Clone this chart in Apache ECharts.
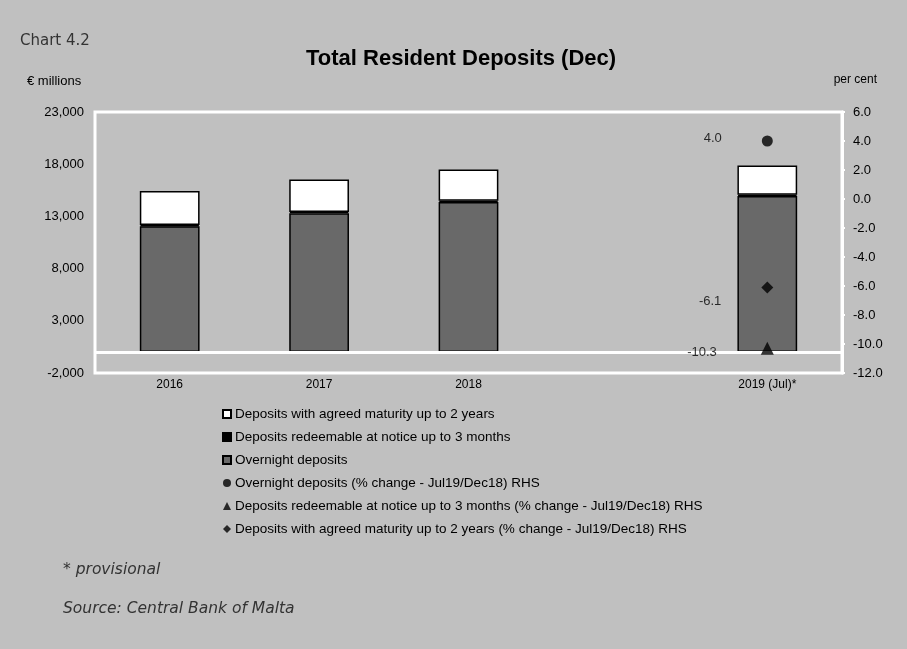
<!DOCTYPE html>
<html>
<head>
<meta charset="utf-8">
<script src="https://cdn.jsdelivr.net/npm/echarts@6/dist/echarts.min.js"></script>
<style>
html,body{margin:0;padding:0;background:#c0c0c0;}
#chart{width:907px;height:649px;}
</style>
</head>
<body>
<div id="chart"></div>
<script>
// ---- data ----
var categories = ['2016', '2017', '2018', '', '2019 (Jul)*'];
var overnight = [12050, 13300, 14370, '-', 14950];
var notice = [130, 130, 130, '-', 117];
var agreed = [3250, 3110, 3000, '-', 2810];
var pctOvernight = 4.0;
var pctNotice = -10.3;
var pctAgreed = -6.1;
var leftTicks = { min: -2000, max: 23000, interval: 5000 };
var rightTicks = { min: -12, max: 6, interval: 2 };

var names = {
  agreed: 'Deposits with agreed maturity up to 2 years',
  notice: 'Deposits redeemable at notice up to 3 months',
  overnight: 'Overnight deposits',
  pOvernight: 'Overnight deposits (% change - Jul19/Dec18) RHS',
  pNotice: 'Deposits redeemable at notice up to 3 months (% change - Jul19/Dec18) RHS',
  pAgreed: 'Deposits with agreed maturity up to 2 years (% change - Jul19/Dec18) RHS'
};
var lastCat = categories[categories.length - 1];
var FONT = '"Liberation Sans", Arial, sans-serif';

var chart = echarts.init(document.getElementById('chart'));
var barBorder = { borderColor: '#000', borderWidth: 1.5 };
function scatterLabel(off) {
  return {
    show: true, position: 'left', distance: 40, offset: off,
    color: '#000', fontSize: 13, fontFamily: FONT,
    formatter: function (p) { return p.value[1].toFixed(1); }
  };
}
chart.setOption({
  backgroundColor: '#c0c0c0',
  animation: false,
  textStyle: { fontFamily: FONT },
  grid: { left: 95, right: 65, top: 112, bottom: 276, show: true, borderColor: '#fff', borderWidth: 3, backgroundColor: 'transparent' },
  graphic: [
    { type: 'text', left: 20, top: 34, style: { text: 'Chart 4.2', font: '15px "DejaVu Sans", sans-serif', fill: '#333' } },
    { type: 'text', left: 306, top: 48, style: { text: 'Total Resident Deposits (Dec)', font: 'bold 22px "Liberation Sans", Arial, sans-serif', fill: '#000' } },
    { type: 'text', left: 27, top: 75, style: { text: '€ millions', font: '13px "Liberation Sans", Arial, sans-serif', fill: '#000' } },
    { type: 'text', right: 30, top: 74, style: { text: 'per cent', font: '12px "Liberation Sans", Arial, sans-serif', fill: '#000' } },
    { type: 'text', left: 63, top: 562, style: { text: '* provisional', font: 'italic 15.5px "DejaVu Sans", sans-serif', fill: '#333' } },
    { type: 'text', left: 63, top: 601, style: { text: 'Source: Central Bank of Malta', font: 'italic 15.5px "DejaVu Sans", sans-serif', fill: '#333' } }
  ],
  legend: {
    orient: 'vertical', left: 217, top: 402,
    itemWidth: 8, itemHeight: 8, itemGap: 9,
    textStyle: { fontSize: 13.5, lineHeight: 14, color: '#000', fontFamily: FONT, padding: [0, 0, 0, -1] },
    data: [
      { name: names.agreed, icon: 'rect' },
      { name: names.notice, icon: 'rect' },
      { name: names.overnight, icon: 'rect' },
      { name: names.pOvernight, icon: 'circle' },
      { name: names.pNotice, icon: 'triangle' },
      { name: names.pAgreed, icon: 'diamond' }
    ]
  },
  xAxis: {
    type: 'category', data: categories,
    axisLine: { show: false, onZero: false },
    axisTick: { show: false },
    axisLabel: { color: '#000', fontSize: 12, margin: 6, interval: 0 }
  },
  yAxis: [
    {
      type: 'value', min: leftTicks.min, max: leftTicks.max, interval: leftTicks.interval,
      splitLine: { show: false }, axisLine: { show: false }, axisTick: { show: false },
      axisLabel: { color: '#000', fontSize: 13, margin: 11, formatter: function (v) { return v.toLocaleString('en-US'); } }
    },
    {
      type: 'value', min: rightTicks.min, max: rightTicks.max, interval: rightTicks.interval,
      position: 'right',
      splitLine: { show: false },
      axisLine: { show: true, lineStyle: { color: '#fff', width: 3 } },
      axisTick: { show: true, length: 3, lineStyle: { color: '#fff', width: 2 } },
      axisLabel: { color: '#000', fontSize: 13, margin: 11, formatter: function (v) { return v.toFixed(1); } }
    }
  ],
  series: [
    {
      name: names.overnight, type: 'bar', stack: 'd', data: overnight, barWidth: '40%',
      itemStyle: Object.assign({ color: '#696969' }, barBorder),
      markLine: {
        silent: true, symbol: 'none', label: { show: false },
        lineStyle: { color: '#fff', width: 3, type: 'solid' },
        data: [{ yAxis: 0 }]
      },
      z: 2
    },
    { name: names.notice, type: 'bar', stack: 'd', data: notice, itemStyle: Object.assign({ color: '#000' }, barBorder), z: 2 },
    { name: names.agreed, type: 'bar', stack: 'd', data: agreed, itemStyle: Object.assign({ color: '#fff' }, barBorder), z: 2 },
    {
      name: names.pOvernight, type: 'scatter', yAxisIndex: 1, symbol: 'circle', symbolSize: 11,
      itemStyle: { color: '#000' }, data: [[lastCat, pctOvernight]], label: scatterLabel([0, -3]), z: 5
    },
    {
      name: names.pNotice, type: 'scatter', yAxisIndex: 1, symbol: 'triangle', symbolSize: 13,
      itemStyle: { color: '#000' }, data: [[lastCat, pctNotice]], label: scatterLabel([-4, 4]), z: 5
    },
    {
      name: names.pAgreed, type: 'scatter', yAxisIndex: 1, symbol: 'diamond', symbolSize: 12,
      itemStyle: { color: '#000' }, data: [[lastCat, pctAgreed]], label: scatterLabel([0, 14]), z: 5
    }
  ]
});
</script>
</body>
</html>
